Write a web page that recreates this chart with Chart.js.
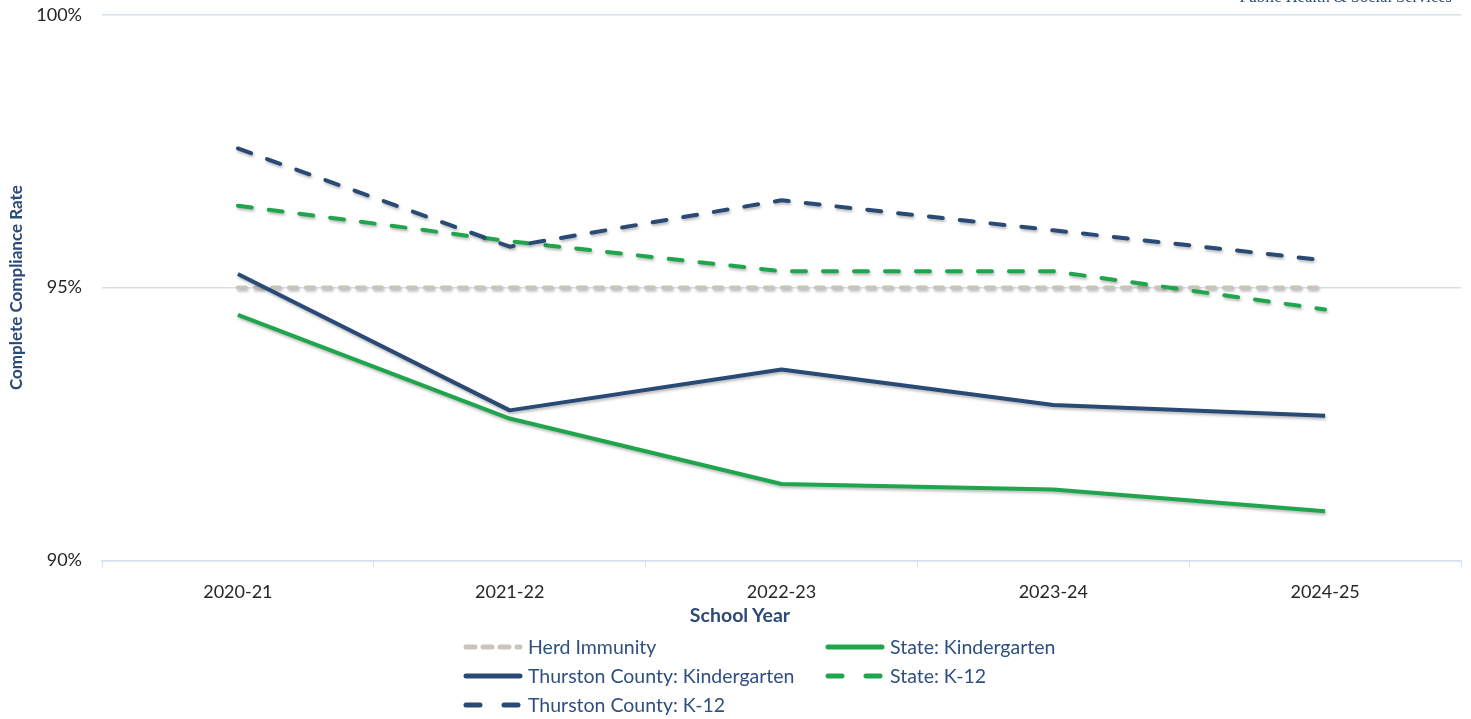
<!DOCTYPE html>
<html>
<head>
<meta charset="utf-8">
<script src="https://cdn.jsdelivr.net/npm/chart.js@4.4.1/dist/chart.umd.min.js"></script>
<style>
  body { margin: 0; background: #fff; overflow: hidden; }
  #wrap { position: relative; width: 1471px; height: 719px; overflow: hidden; }
  #chartBox { position: absolute; left: 0; top: -16px; width: 1471px; height: 647px; }
  #brand { position: absolute; right: 19px; top: -13px; font-family: "Liberation Serif", serif; font-size: 16.5px; color: #2b4a78; }
  #xTitle { position: absolute; left: 640px; width: 200px; top: 603px; text-align: center; font-family: Lato, sans-serif; font-size: 19.5px; font-weight: bold; color: #2b4a78; }
  #legend { position: absolute; left: 462px; top: 632px; font-family: Lato, sans-serif; font-size: 19.5px; color: #2e4f80; }
  .item { position: absolute; height: 29px; display: flex; align-items: center; white-space: nowrap; }
  .item svg { margin-right: 4px; }
</style>
</head>
<body>
<div id="wrap">
  <div id="chartBox"><canvas id="chart"></canvas></div>
  <div id="brand">Public Health &amp; Social Services</div>
  <div id="xTitle">School Year</div>
  <div id="legend"></div>
</div>
<script>
const schoolYears = ['2020-21', '2021-22', '2022-23', '2023-24', '2024-25'];
const herdImmunity = [95, 95, 95, 95, 95];
const stateKindergarten = [94.5, 92.6, 91.4, 91.3, 90.9];
const thurstonKindergarten = [95.25, 92.75, 93.5, 92.85, 92.65];
const stateK12 = [96.5, 95.85, 95.3, 95.3, 94.6];
const thurstonK12 = [97.55, 95.75, 96.6, 96.05, 95.5];
const yTicks = [90, 95, 100];

const navy = '#284a74';
const green = '#1fa54b';
const beige = '#c9c5bb';
const gridBlue = '#d5e0ee';

// soft drop shadow under each line, like the original
const shadowPlugin = {
  id: 'lineShadow',
  beforeDatasetDraw(chart) {
    const ctx = chart.ctx;
    ctx.save();
    ctx.shadowColor = 'rgba(0,0,0,0.28)';
    ctx.shadowBlur = 3;
    ctx.shadowOffsetX = 1;
    ctx.shadowOffsetY = 2;
  },
  afterDatasetDraw(chart) {
    chart.ctx.restore();
  }
};

function line(label, data, color, dash, order) {
  return {
    label: label,
    data: data,
    borderColor: color,
    backgroundColor: color,
    borderWidth: 4,
    borderDash: dash,
    borderCapStyle: dash.length ? 'round' : 'butt',
    borderJoinStyle: 'round',
    pointRadius: 0,
    pointHoverRadius: 0,
    tension: 0,
    fill: false,
    order: order
  };
}

const datasets = [
  line('Herd Immunity', herdImmunity, beige, [8, 9], 5),
  line('State: Kindergarten', stateKindergarten, green, [], 4),
  line('Thurston County: Kindergarten', thurstonKindergarten, navy, [], 3),
  line('State: K-12', stateK12, green, [14, 17], 2),
  line('Thurston County: K-12', thurstonK12, navy, [14, 17], 1)
];

const chart = new Chart(document.getElementById('chart'), {
  type: 'line',
  data: { labels: schoolYears, datasets: datasets },
  plugins: [shadowPlugin],
  options: {
    responsive: true,
    maintainAspectRatio: false,
    animation: false,
    layout: { padding: { top: 4, right: 10, left: 0, bottom: 14 } },
    plugins: {
      legend: { display: false },
      tooltip: { enabled: false }
    },
    scales: {
      x: {
        offset: true,
        grid: { offset: true, drawOnChartArea: false, drawTicks: true, tickLength: 7, color: gridBlue },
        border: { color: gridBlue, width: 1.5 },
        ticks: { color: '#262626', font: { family: 'Lato', size: 18 }, padding: 14 }
      },
      y: {
        min: 90,
        max: 100,
        afterBuildTicks(axis) { axis.ticks = yTicks.map(v => ({ value: v })); },
        afterFit(axis) { axis.width = 102; },
        grid: { color: gridBlue, lineWidth: 1.5, drawTicks: false },
        border: { display: false },
        ticks: { color: '#262626', font: { family: 'Lato', size: 18 }, padding: 20, callback: v => v + '%' },
        title: { display: true, text: 'Complete Compliance Rate', color: '#2b4a78', font: { family: 'Lato', size: 17, weight: 'bold' }, padding: { top: 6, bottom: 0 } }
      }
    }
  }
});

// two-column legend below the chart
const legendPos = [[0, 0], [362, 0], [0, 29], [362, 29], [0, 58]];
const legendEl = document.getElementById('legend');
chart.data.datasets.forEach((ds, i) => {
  const item = document.createElement('div');
  item.className = 'item';
  item.style.left = legendPos[i][0] + 'px';
  item.style.top = legendPos[i][1] + 'px';
  const dash = ds.borderDash.length ? (ds.label === 'Herd Immunity' ? '9 8' : '14 24') : 'none';
  item.innerHTML = '<svg width="62" height="10"><line x1="4" y1="5" x2="58" y2="5" stroke="' + ds.borderColor +
    '" stroke-width="5" stroke-linecap="round" stroke-dasharray="' + dash + '"/></svg><span>' + ds.label + '</span>';
  legendEl.appendChild(item);
});
</script>
</body>
</html>
